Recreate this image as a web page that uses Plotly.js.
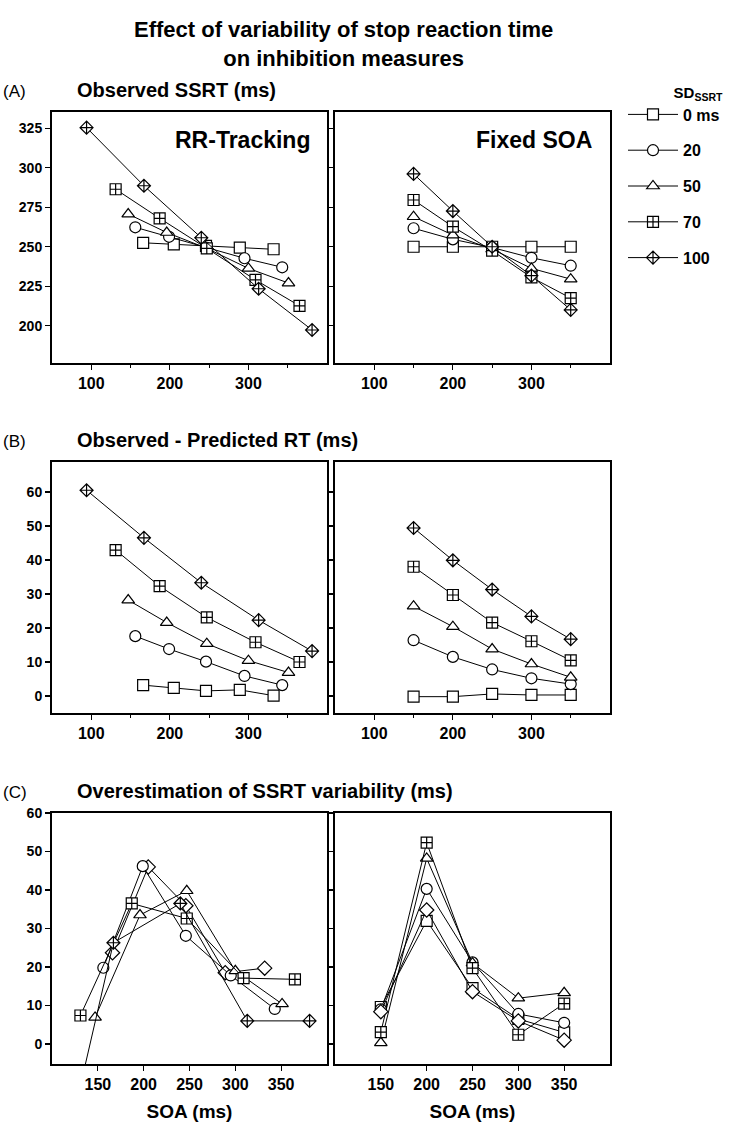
<!DOCTYPE html>
<html><head><meta charset="utf-8">
<script src="https://cdn.plot.ly/plotly-3.0.1.min.js"></script>
<style>body{margin:0;background:#fff}</style>
</head><body><div id="chart" style="width:740px;height:1132px"></div>
<script>
// ---- data ----
const seriesNames = ['0 ms', '20', '50', '70', '100'];
// RR-Tracking mean SOAs per series
const trackSOA_0 = [166, 205, 246, 289, 332];
const trackSOA_20 = [156, 199, 246, 295, 343];
const trackSOA_50 = [147, 196, 247, 300, 351];
const trackSOA_70 = [131, 187, 247, 309, 365];
const trackSOA_100 = [94, 167, 240, 313, 381];
// Fixed SOAs
const fixedSOA = [150, 200, 250, 300, 350];

// (A) Observed SSRT
const ssrtTrack_0 = [252.5, 251.5, 250.6, 249.4, 248.4];
const ssrtTrack_20 = [262.3, 256.3, 249.5, 242.7, 237.0];
const ssrtTrack_50 = [270.7, 259.0, 249.0, 236.3, 227.0];
const ssrtTrack_70 = [286.4, 268.0, 249.0, 229.0, 212.6];
const ssrtTrack_100 = [325.4, 288.6, 255.7, 223.4, 197.3];
const ssrtFixed_0 = [250, 250, 250, 250, 250];
const ssrtFixed_20 = [261.7, 254.7, 249.5, 243.0, 238.0];
const ssrtFixed_50 = [269.0, 257.4, 248.5, 236.3, 229.5];
const ssrtFixed_70 = [279.6, 262.7, 247.5, 230.6, 217.5];
const ssrtFixed_100 = [296.1, 272.6, 250.0, 231.7, 210.0];

// (B) Observed - Predicted RT
const rtTrack_0 = [3.2, 2.4, 1.5, 1.8, 0.1];
const rtTrack_20 = [17.6, 13.8, 10.1, 5.9, 3.2];
const rtTrack_50 = [28.2, 21.6, 15.4, 10.4, 6.9];
const rtTrack_70 = [42.9, 32.3, 23.1, 15.8, 10.0];
const rtTrack_100 = [60.5, 46.5, 33.3, 22.3, 13.2];
const rtFixed_0 = [-0.2, -0.2, 0.6, 0.3, 0.3];
const rtFixed_20 = [16.4, 11.5, 7.8, 5.2, 3.5];
const rtFixed_50 = [26.4, 20.4, 13.8, 9.4, 5.5];
const rtFixed_70 = [38.0, 29.7, 21.6, 16.1, 10.5];
const rtFixed_100 = [49.4, 39.9, 31.3, 23.4, 16.7];

// (C) Overestimation of SSRT variability
const ovTrack_0 = [23.7, 46.0, 35.9, 18.5, 19.7];
const ovTrack_20 = [19.8, 46.2, 28.1, 17.8, 9.1];
const ovTrack_50 = [6.9, 33.5, 39.8, 19.0, 10.4];
const ovTrack_70 = [7.4, 36.5, 32.6, 17.1, 16.8];
const ovTrack_100 = [-49, 26.3, 36.5, 6.0, 6.0];
const ovFixed_0 = [9.6, 32.0, 14.5, 6.5, 3.0];
const ovFixed_20 = [9.0, 40.3, 21.2, 7.8, 5.5];
const ovFixed_50 = [0.3, 48.2, 21.0, 11.9, 13.3];
const ovFixed_70 = [3.1, 52.3, 19.7, 2.4, 10.5];
const ovFixed_100 = [8.4, 34.8, 13.6, 6.0, 1.0];

const yTicksA = [200, 225, 250, 275, 300, 325];
const yTicksB = [0, 10, 20, 30, 40, 50, 60];
const yTicksC = [0, 10, 20, 30, 40, 50, 60];
const xTicksAB = [100, 200, 300];
const xMinorAB = [150, 250, 350];
const xTicksC = [150, 200, 250, 300, 350];

// ---- styling ----
const F = 'Liberation Sans, Arial, sans-serif';
const symbols = ['square', 'circle', 'triangle-up', 'square-cross', 'diamond-cross'];
const symbolsC = ['diamond', 'circle', 'triangle-up', 'square-cross', 'diamond-cross'];
const symbolsCR = ['square', 'circle', 'triangle-up', 'square-cross', 'diamond'];
const sizes = {'square': 11, 'circle': 11, 'triangle-up': 11, 'square-cross': 11, 'diamond-cross': 10, 'diamond': 11};

const trackSOA = [trackSOA_0, trackSOA_20, trackSOA_50, trackSOA_70, trackSOA_100];
const panels = [
  {xa: 'x', ya: 'y', xs: trackSOA, ys: [ssrtTrack_0, ssrtTrack_20, ssrtTrack_50, ssrtTrack_70, ssrtTrack_100], sym: symbols, legend: true},
  {xa: 'x2', ya: 'y2', xs: null, ys: [ssrtFixed_0, ssrtFixed_20, ssrtFixed_50, ssrtFixed_70, ssrtFixed_100], sym: symbols},
  {xa: 'x3', ya: 'y3', xs: trackSOA, ys: [rtTrack_0, rtTrack_20, rtTrack_50, rtTrack_70, rtTrack_100], sym: symbols},
  {xa: 'x4', ya: 'y4', xs: null, ys: [rtFixed_0, rtFixed_20, rtFixed_50, rtFixed_70, rtFixed_100], sym: symbols},
  {xa: 'x5', ya: 'y5', xs: trackSOA, ys: [ovTrack_0, ovTrack_20, ovTrack_50, ovTrack_70, ovTrack_100], sym: symbolsC},
  {xa: 'x6', ya: 'y6', xs: null, ys: [ovFixed_0, ovFixed_20, ovFixed_50, ovFixed_70, ovFixed_100], sym: symbolsCR}
];

const traces = [];
panels.forEach(p => {
  for (let i = 0; i < 5; i++) {
    const s = p.sym[i];
    traces.push({
      type: 'scatter', mode: 'lines+markers',
      x: p.xs ? p.xs[i] : fixedSOA, y: p.ys[i],
      xaxis: p.xa, yaxis: p.ya,
      name: seriesNames[i], legendgroup: seriesNames[i],
      showlegend: !!p.legend,
      line: {color: '#000', width: 1},
      marker: {symbol: s, size: sizes[s], color: '#fff', line: {color: '#000', width: 1.2}},
      cliponaxis: true, hoverinfo: 'skip'
    });
  }
});

const L = [52/740, 327/740], R = [335/740, 610/740];
const dA = [1 - 363/1132, 1 - 112/1132], dB = [1 - 713/1132, 1 - 462/1132], dC = [1 - 1064/1132, 1 - 813/1132];
const tf = {family: F, size: 14, color: '#000', weight: 'bold'};
function xax(dom, anchor, range, vals, minor, title) {
  const a = {domain: dom, anchor: anchor, range: range, tickmode: 'array', tickvals: vals,
    showline: true, mirror: true, linewidth: 2, linecolor: '#000', ticks: 'outside', ticklen: 5, tickwidth: 1.2, tickcolor: '#000',
    showgrid: false, zeroline: false, tickfont: {family: F, size: 16, color: '#000', weight: 'bold'}};
  if (minor) a.minor = {tickmode: 'array', tickvals: minor, ticks: 'outside', ticklen: 3, tickwidth: 1, tickcolor: '#000', showgrid: false};
  if (title) a.title = {text: title, font: {family: F, size: 19, color: '#000', weight: 'bold'}, standoff: 12};
  return a;
}
function yax(dom, anchor, range, vals, labels) {
  return {domain: dom, anchor: anchor, range: range, tickmode: 'array', tickvals: vals, showticklabels: labels,
    showline: true, mirror: true, linewidth: 2, linecolor: '#000', ticks: 'outside', ticklen: 5, tickwidth: 1.2, tickcolor: '#000',
    showgrid: false, zeroline: false, tickfont: tf};
}

const bold = (sz) => ({family: F, size: sz, color: '#000', weight: 'bold'});
const reg = (sz) => ({family: F, size: sz, color: '#000'});
const ann = (text, x, y, font, xanchor) => ({text: text, x: x, y: y, xref: 'paper', yref: 'paper', xanchor: xanchor || 'left', yanchor: 'middle', showarrow: false, font: font});

const layout = {
  width: 740, height: 1132, margin: {l: 0, r: 0, t: 0, b: 0},
  paper_bgcolor: '#fff', plot_bgcolor: '#fff', showlegend: true,
  xaxis: xax(L, 'y', [50, 400], xTicksAB, xMinorAB),
  yaxis: yax(dA, 'x', [176.4, 335.3], yTicksA, true),
  xaxis2: xax(R, 'y2', [50, 400], xTicksAB, xMinorAB),
  yaxis2: yax(dA, 'x2', [176.4, 335.3], yTicksA, false),
  xaxis3: xax(L, 'y3', [50, 400], xTicksAB, xMinorAB),
  yaxis3: yax(dB, 'x3', [-5, 68.8], yTicksB, true),
  xaxis4: xax(R, 'y4', [50, 400], xTicksAB, xMinorAB),
  yaxis4: yax(dB, 'x4', [-5, 68.8], yTicksB, false),
  xaxis5: xax(L, 'y5', [100, 400], xTicksC, null, 'SOA (ms)'),
  yaxis5: yax(dC, 'x5', [-5.2, 60], yTicksC, true),
  xaxis6: xax(R, 'y6', [100, 400], xTicksC, null, 'SOA (ms)'),
  yaxis6: yax(dC, 'x6', [-5.2, 60], yTicksC, false),
  legend: {x: 623/740, y: 1 - 78/1132, xanchor: 'left', yanchor: 'top', bgcolor: 'rgba(0,0,0,0)',
    font: bold(16), tracegroupgap: 12, itemwidth: 50,
    title: {text: 'SD<sub>SSRT</sub>', side: 'top right', font: bold(15)}},
  annotations: [
    ann('Effect of variability of stop reaction time<br>on inhibition measures', 343/740, 1 - 44/1132, bold(22), 'center'),
    ann('(A)', 1/740, 1 - 91/1132, reg(17)),
    ann('Observed SSRT (ms)', 75/740, 1 - 90/1132, bold(20)),
    ann('(B)', 1/740, 1 - 441/1132, reg(17)),
    ann('Observed - Predicted RT (ms)', 75/740, 1 - 440/1132, bold(20)),
    ann('(C)', 1/740, 1 - 792/1132, reg(17)),
    ann('Overestimation of SSRT variability (ms)', 75/740, 1 - 791/1132, bold(20)),
    ann('RR-Tracking', 312/740, 1 - 140/1132, bold(23), 'right'),
    ann('Fixed SOA', 594/740, 1 - 140/1132, bold(23), 'right')
  ]
};

Plotly.newPlot('chart', traces, layout, {staticPlot: true});
</script></body></html>
